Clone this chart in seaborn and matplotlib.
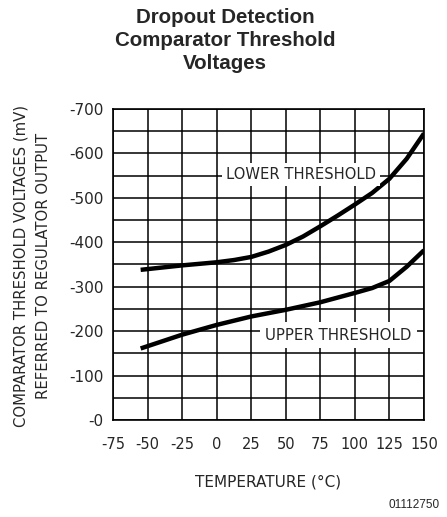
import numpy as np
import pandas as pd
import matplotlib
matplotlib.use('Agg')
import matplotlib.pyplot as plt
import seaborn as sns

# Datos (temperatura en C, tension en mV)
temp_lower = [-55, -25, 0, 12.5, 25, 37.5, 50, 62.5, 75, 87.5, 100, 112.5, 125, 137.5, 150]
volt_lower = [-338, -348, -355, -360, -367, -379, -394, -413, -436, -460, -485, -511, -543, -588, -645]

temp_upper = [-55, -25, 0, 25, 50, 75, 100, 112.5, 125, 137.5, 150]
volt_upper = [-161, -192, -214, -233, -248, -265, -286, -297, -313, -345, -382]

x_ticks = [-75, -50, -25, 0, 25, 50, 75, 100, 125, 150]
x_tick_labels = ['-75', '-50', '-25', '0', '25', '50', '75', '100', '125', '150']
y_ticks = [0, -100, -200, -300, -400, -500, -600, -700]
y_tick_labels = ['-0', '-100', '-200', '-300', '-400', '-500', '-600', '-700']

df = pd.concat([
    pd.DataFrame({'temp': temp_lower, 'volt': volt_lower, 'serie': 'lower'}),
    pd.DataFrame({'temp': temp_upper, 'volt': volt_upper, 'serie': 'upper'}),
])

sns.set_style('white')
plt.rcParams['font.family'] = ['DejaVu Sans']

fig = plt.figure(figsize=(4.47, 5.17), dpi=100)
ax = fig.add_axes([0.2528, 0.1876, 0.6957, 0.6016])

for serie in ['lower', 'upper']:
    sub = df[df['serie'] == serie]
    sns.lineplot(data=sub, x='temp', y='volt', ax=ax, color='black',
                 linewidth=3.2, estimator=None, sort=True, zorder=3,
                 solid_capstyle='butt', solid_joinstyle='round')

ax.set_xlim(-75, 150)
ax.set_ylim(0, -700)
ax.set_xticks(x_ticks)
ax.set_xticklabels(x_tick_labels, fontsize=10.5)
ax.set_yticks(y_ticks)
ax.set_yticklabels(y_tick_labels, fontsize=11)
ax.set_yticks(np.arange(-50, -700, -100), minor=True)
ax.grid(True, which='both', color='black', linewidth=1.1, zorder=1)
ax.set_axisbelow(True)
ax.tick_params(which='both', length=0)
ax.tick_params(axis='x', pad=12)
ax.tick_params(axis='y', pad=7)
for sp in ax.spines.values():
    sp.set_color('black')
    sp.set_linewidth(1.2)

ax.set_xlabel('TEMPERATURE (°C)', fontsize=11)
ax.xaxis.set_label_coords(0.5, -0.199)
ax.xaxis.label.set_va('center')
ax.set_ylabel('COMPARATOR THRESHOLD VOLTAGES (mV)\nREFERRED TO REGULATOR OUTPUT',
              fontsize=10.7, linespacing=1.6)
ax.yaxis.set_label_coords(-0.259, 0.495)
ax.yaxis.label.set_va('center')
ax.yaxis.label.set_rotation_mode('default')

ax.text(61, -553, 'LOWER THRESHOLD', fontsize=10.6, ha='center', va='center', zorder=4,
        bbox=dict(facecolor='white', edgecolor='none', pad=3))
ax.text(88, -191, 'UPPER THRESHOLD', fontsize=10.8, ha='center', va='center', zorder=4,
        bbox=dict(facecolor='white', edgecolor='none', pad=4))

fig.text(0.503, 0.984, 'Dropout Detection\nComparator Threshold\nVoltages',
         fontsize=14.8, fontweight='bold', family='Liberation Sans',
         ha='center', va='top', linespacing=1.25)
fig.text(0.984, 0.012, '01112750', fontsize=8.5, family='Liberation Sans',
         ha='right', va='bottom')

fig.savefig('out.png', dpi=100)
